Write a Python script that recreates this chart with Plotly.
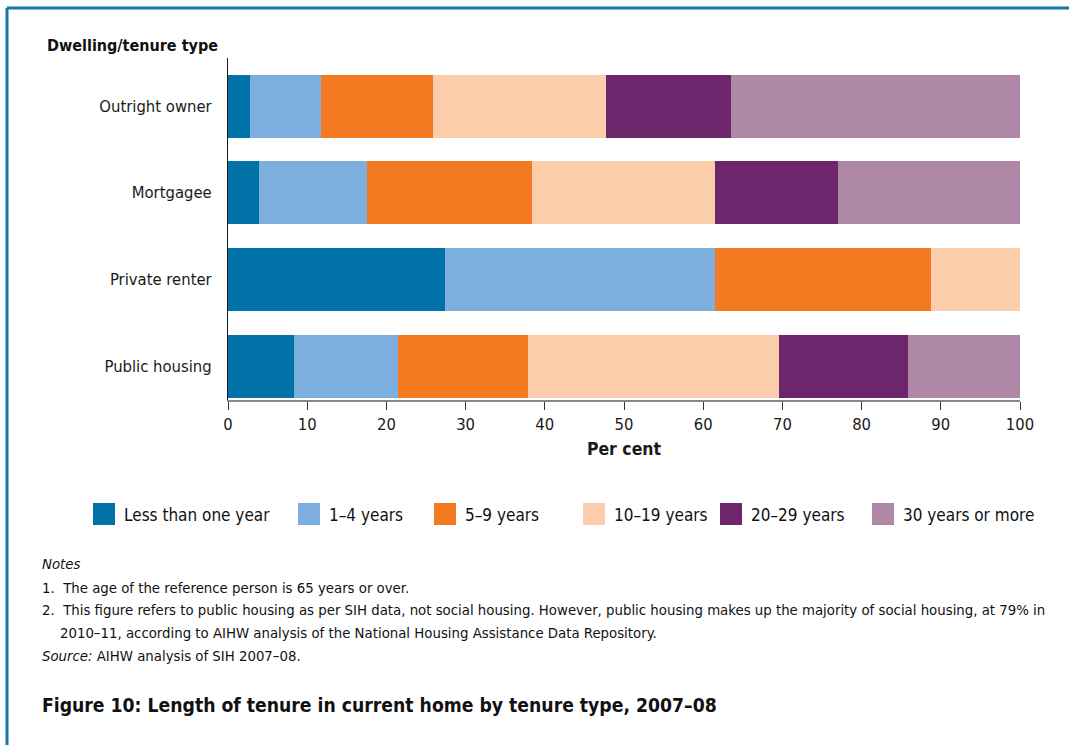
import plotly.graph_objects as go

categories = ["Outright owner", "Mortgagee", "Private renter", "Public housing"]
series_names = ["Less than one year", "1\u20134 years", "5\u20139 years",
                "10\u201319 years", "20\u201329 years", "30 years or more"]
less_than_one = [2.8, 3.9, 27.4, 8.3]
one_to_four = [8.9, 13.7, 34.1, 13.2]
five_to_nine = [14.2, 20.8, 27.2, 16.4]
ten_to_nineteen = [21.8, 23.1, 11.3, 31.7]
twenty_to_29 = [15.8, 15.5, 0.0, 16.2]
thirty_plus = [36.5, 23.0, 0.0, 14.2]
x_ticks = [0, 10, 20, 30, 40, 50, 60, 70, 80, 90, 100]

colors = ["#0072a7", "#7cafdd", "#f47a22", "#fccdaa", "#6d266b", "#af88a8"]
series_values = [less_than_one, one_to_four, five_to_nine,
                 ten_to_nineteen, twenty_to_29, thirty_plus]

FONT = "'Liberation Sans Narrow', 'DejaVu Sans Condensed', 'Arial Narrow', sans-serif"
W, H = 1069, 745
L, R, T, B = 228, 1020, 58, 400  # plot area box in page pixels

def px(x):
    return (x - L) / (R - L)

def py(y):
    return (B - y) / (B - T)

fig = go.Figure()
for name, vals, col in zip(series_names, series_values, colors):
    fig.add_trace(go.Bar(
        y=categories, x=vals, name=name, orientation="h",
        marker=dict(color=col, line=dict(width=0)),
        width=0.727, showlegend=False,
        hovertemplate="%{y}: %{x}%<extra>" + name + "</extra>",
    ))

fig.update_layout(
    width=W, height=H,
    margin=dict(l=L, r=W - R, t=T, b=H - B, pad=0),
    barmode="stack",
    plot_bgcolor="white", paper_bgcolor="white",
    font=dict(family=FONT, size=16, color="#1a1a1a"),
    xaxis=dict(
        range=[0, 100], tickvals=x_ticks, ticks="outside", ticklen=8,
        tickcolor="#333", tickwidth=1, showline=True, linecolor="#888",
        linewidth=2, showgrid=False, zeroline=False,
        tickfont=dict(size=16.5, family=FONT, color="#1a1a1a"),
        title=dict(text="<b>Per cent</b>", font=dict(size=17.5, family=FONT), standoff=10),
    ),
    yaxis=dict(
        categoryorder="array", categoryarray=categories,
        range=[3.392, -0.554], showline=True, linecolor="#1a1a1a", linewidth=1,
        ticks="", showgrid=False, zeroline=False, ticklabelstandoff=12,
        tickfont=dict(size=16.5, family=FONT, color="#1a1a1a"),
    ),
)

annotations = []
annotations.append(dict(x=px(45), y=py(46), xref="paper", yref="paper",
                        text="<b>Dwelling/tenure type</b>", showarrow=False,
                        xanchor="left", yanchor="middle",
                        font=dict(size=16, family=FONT, color="#111")))

# Legend drawn manually
legend_x = [93, 298, 434, 583, 720, 872]
legend_y = 514
shapes = []
for lx, name, col in zip(legend_x, series_names, colors):
    shapes.append(dict(type="rect", xref="paper", yref="paper",
                       x0=px(lx), x1=px(lx + 22), y0=py(legend_y - 11), y1=py(legend_y + 11),
                       fillcolor=col, line=dict(width=0)))
    annotations.append(dict(x=px(lx + 29), y=py(legend_y + 1), xref="paper", yref="paper",
                            text=name, showarrow=False, xanchor="left", yanchor="middle",
                            font=dict(size=17, family=FONT, color="#111")))

notes = [
    (563, "<i>Notes</i>", 40),
    (587, "1.  The age of the reference person is 65 years or over.", 40),
    (609, "2.  This figure refers to public housing as per SIH data, not social housing. However, public housing makes up the majority of social housing, at 79% in", 40),
    (632, "2010\u201311, according to AIHW analysis of the National Housing Assistance Data Repository.", 58),
    (655, "<i>Source:</i> AIHW analysis of SIH 2007\u201308.", 40),
]
for ny, txt, nx in notes:
    annotations.append(dict(x=px(nx), y=py(ny), xref="paper", yref="paper",
                            text=txt, showarrow=False, xanchor="left", yanchor="middle",
                            font=dict(size=14.8, family=FONT, color="#111")))

annotations.append(dict(x=px(40), y=py(705), xref="paper", yref="paper",
                        text="<b>Figure 10: Length of tenure in current home by tenure type, 2007\u201308</b>",
                        showarrow=False, xanchor="left", yanchor="middle",
                        font=dict(size=19.2, family=FONT, color="#111")))

# Frame border (top and left)
border_col = "#1a76a8"
shapes.append(dict(type="line", xref="paper", yref="paper",
                   x0=px(7), x1=px(1069), y0=py(8), y1=py(8),
                   line=dict(color=border_col, width=3)))
shapes.append(dict(type="line", xref="paper", yref="paper",
                   x0=px(7), x1=px(7), y0=py(8), y1=py(745),
                   line=dict(color=border_col, width=3)))

fig.update_layout(annotations=annotations, shapes=shapes)
fig.write_html(
    "out.html",
    config={"displayModeBar": False},
    post_script="document.body.style.margin='0';document.body.style.overflow='hidden';",
)
